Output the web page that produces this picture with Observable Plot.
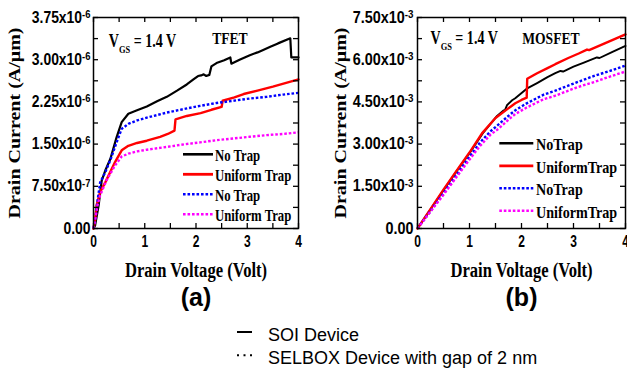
<!DOCTYPE html>
<html><head><meta charset="utf-8">
<script src="https://cdn.jsdelivr.net/npm/d3@7"></script>
<script src="https://cdn.jsdelivr.net/npm/@observablehq/plot@0.6"></script>
<style>
body{margin:0;background:#fff;}
#root{position:relative;width:627px;height:368px;overflow:hidden;background:#fff;}
#pa{position:absolute;left:0;top:0;}
#pb{position:absolute;left:310px;top:0;}
#legend{position:absolute;left:0;top:318px;}
svg{overflow:visible;}
</style></head><body>
<div id="root"><div id="pa"></div><div id="pb"></div><div id="legend"></div></div>
<script>
// ---------- data ----------
const xTicks = [0, 1, 2, 3, 4];
const xMinorTicks = [0.5, 1.5, 2.5, 3.5];

// TFET panel, current in units of 1e-6 A/um
const tfetYTicks = [0, 0.75, 1.5, 2.25, 3.0, 3.75];
const tfetYTickLabels = ["0.00", "7.50x10^-7", "1.50x10^-6", "2.25x10^-6", "3.00x10^-6", "3.75x10^-6"];
const tfetYMinor = [0.375, 1.125, 1.875, 2.625, 3.375];

// MOSFET panel, current in units of 1e-3 A/um
const mosYTicks = [0, 1.5, 3, 4.5, 6, 7.5];
const mosYTickLabels = ["0.00", "1.50x10^-3", "3.00x10^-3", "4.50x10^-3", "6.00x10^-3", "7.50x10^-3"];
const mosYMinor = [0.75, 2.25, 3.75, 5.25, 6.75];

const tfetSoiNoTrap = [[0,0],[0.03,0.05],[0.1,0.41],[0.16,0.85],[0.23,1.03],[0.33,1.24],[0.45,1.62],[0.55,1.89],[0.68,2.04],[0.85,2.1],[1.04,2.17],[1.24,2.26],[1.43,2.34],[1.63,2.45],[1.82,2.56],[1.95,2.65],[2.04,2.71],[2.1,2.72],[2.15,2.74],[2.2,2.71],[2.26,2.73],[2.3,2.88],[2.4,2.94],[2.55,2.99],[2.67,3.04],[2.69,2.93],[2.85,3.0],[3.05,3.08],[3.2,3.13],[3.3,3.17],[3.45,3.23],[3.6,3.29],[3.84,3.38],[3.86,3.04],[4,3.04]];
const tfetSoiUniform = [[0,0],[0.03,0.15],[0.06,0.41],[0.13,0.65],[0.23,0.82],[0.42,1.18],[0.55,1.39],[0.68,1.47],[0.85,1.52],[1.04,1.56],[1.3,1.63],[1.45,1.68],[1.58,1.74],[1.6,1.94],[1.82,2.0],[2.09,2.05],[2.3,2.11],[2.5,2.16],[2.52,2.27],[2.75,2.33],[2.93,2.39],[3.2,2.45],[3.5,2.52],[4,2.65]];
const tfetSelboxNoTrap = [[0,0],[0.04,0.2],[0.08,0.5],[0.13,0.82],[0.23,1.0],[0.33,1.22],[0.45,1.53],[0.55,1.77],[0.68,1.86],[0.85,1.92],[1.04,1.97],[1.43,2.06],[1.8,2.13],[2.08,2.18],[2.4,2.23],[2.73,2.27],[3.05,2.31],[3.38,2.34],[3.7,2.38],[4,2.41]];
const tfetSelboxUniform = [[0,0],[0.04,0.2],[0.08,0.42],[0.13,0.59],[0.25,0.85],[0.42,1.12],[0.55,1.28],[0.68,1.33],[0.85,1.37],[1.04,1.4],[1.43,1.45],[1.8,1.5],[2.08,1.53],[2.4,1.57],[2.73,1.6],[3.05,1.63],[3.38,1.66],[3.7,1.68],[4,1.71]];

const mosSoiNoTrap = [[0,0],[0.25,0.68],[0.5,1.36],[0.75,2.03],[1.0,2.68],[1.27,3.42],[1.53,4.0],[1.66,4.2],[1.68,4.2],[1.72,4.38],[1.82,4.56],[1.88,4.63],[2.1,4.97],[2.3,5.17],[2.5,5.38],[2.65,5.52],[2.75,5.6],[2.8,5.58],[3.0,5.75],[3.2,5.9],[3.45,6.08],[3.5,6.06],[3.75,6.28],[4,6.49]];
const mosSoiUniform = [[0,0],[0.25,0.69],[0.5,1.38],[0.75,2.05],[1.0,2.7],[1.24,3.38],[1.5,3.93],[1.79,4.33],[1.88,4.45],[2.0,4.57],[2.1,4.65],[2.11,5.32],[2.3,5.52],[2.5,5.7],[2.65,5.84],[2.9,6.06],[3.1,6.22],[3.26,6.36],[3.3,6.34],[3.6,6.58],[3.8,6.74],[4,6.9]];
const mosSelboxNoTrap = [[0,0],[0.25,0.62],[0.5,1.25],[0.75,1.9],[1.0,2.55],[1.2,3.05],[1.4,3.45],[1.56,3.7],[1.79,4.07],[1.88,4.2],[2.1,4.45],[2.43,4.76],[2.65,4.9],[3.07,5.2],[3.42,5.44],[3.7,5.6],[4,5.79]];
const mosSelboxUniform = [[0,0],[0.25,0.6],[0.5,1.2],[0.75,1.83],[1.0,2.45],[1.2,2.93],[1.4,3.33],[1.56,3.55],[1.79,3.93],[1.88,4.07],[2.1,4.3],[2.43,4.6],[2.65,4.72],[3.07,5.02],[3.42,5.22],[3.7,5.4],[4,5.58]];

const tfetLegendLabels = ["No Trap", "Uniform Trap", "No Trap", "Uniform Trap"];
const mosLegendLabels = ["NoTrap", "UniformTrap", "NoTrap", "UniformTrap"];
const figureLegendLabels = ["SOI Device", "SELBOX Device with gap of 2 nm"];

// ---------- helpers ----------
const SERIF = "'Liberation Serif','Times New Roman',serif";
const SANS = "'Liberation Sans',Arial,sans-serif";
const VGS = "V_GS = 1.4 V", YLAB = "Drain Current (A/μm)", XLAB = "Drain Voltage (Volt)";

function squeeze(nodes, sx, sy = 1) {
  nodes.each(function () {
    const t = this.getAttribute("transform") || "";
    this.setAttribute("transform", t + ` scale(${sx},${sy})`);
  });
}
function supify(nodes) {
  nodes.each(function () {
    const m = this.textContent.match(/^(.*)\^(.*)$/);
    if (!m) return;
    this.textContent = "";
    const s = d3.select(this);
    s.append("tspan").text(m[1]);
    s.append("tspan").attr("dy", "-0.45em").attr("font-size", "0.68em").text(m[2]);
  });
}
function subify(nodes) {
  nodes.each(function () {
    const m = this.textContent.match(/^(.*?)_(\S+)(.*)$/);
    if (!m) return;
    this.textContent = "";
    const s = d3.select(this);
    s.append("tspan").text(m[1]);
    s.append("tspan").attr("dy", 6).attr("font-size", "0.6em").text(m[2]);
    s.append("tspan").attr("dy", -6).text(m[3]);
  });
}
function byText(s, str) {
  return s.selectAll("text").filter(function () { return this.textContent === str; });
}

function panel(cfg) {
  const H = 312, mT = 17, mB = 84;
  const fw = cfg.width - cfg.marginLeft - cfg.marginRight;
  const fh = H - mT - mB;
  const xAll = xTicks.concat(xMinorTicks);
  const yAll = cfg.yTicks.concat(cfg.yMinor);
  const svg = Plot.plot({
    width: cfg.width, height: H,
    marginLeft: cfg.marginLeft, marginRight: cfg.marginRight, marginTop: mT, marginBottom: mB,
    x: {domain: [0, 4]},
    y: {domain: [0, cfg.yTicks[cfg.yTicks.length - 1]]},
    style: {background: "white", color: "black"},
    marks: [
      ...cfg.series.map(s => Plot.line(s.data, {x: d => d[0], y: d => d[1], stroke: s.color, strokeWidth: s.w, strokeDasharray: s.dash, strokeLinejoin: "round", strokeLinecap: s.dash ? "butt" : "round"})),
      Plot.frame({stroke: "black", strokeWidth: 1.5}),
      Plot.tickX(xAll, {x: d => d, insetTop: fh - 5, strokeWidth: 1.3}),
      Plot.tickX(xAll, {x: d => d, insetBottom: fh - 5, strokeWidth: 1.3}),
      Plot.tickY(yAll, {y: d => d, insetRight: fw - 5, strokeWidth: 1.3}),
      Plot.tickY(yAll, {y: d => d, insetLeft: fw - 5, strokeWidth: 1.3}),
      Plot.axisX(xTicks, {tickSize: 0, tickPadding: 7, label: null, fontSize: 16, fontWeight: "bold", fontFamily: SANS, tickFormat: d => String(d)}),
      Plot.axisY(cfg.yTicks, {tickSize: 0, tickPadding: cfg.yPad, label: null, fontSize: 16, fontWeight: "bold", fontFamily: SANS, tickFormat: d => cfg.yLabels[cfg.yTicks.indexOf(d)]}),
      Plot.text([VGS], {frameAnchor: "top-left", dx: cfg.vgs[0], dy: cfg.vgs[1], textAnchor: "start", lineAnchor: "bottom", fontSize: 18, fontWeight: "bold", fontFamily: SERIF}),
      Plot.text([cfg.title], {frameAnchor: "top-left", dx: cfg.titlePos[0], dy: cfg.titlePos[1], textAnchor: "start", lineAnchor: "bottom", fontSize: 17, fontWeight: "bold", fontFamily: SERIF}),
      Plot.text([YLAB], {frameAnchor: "left", dx: cfg.ylabDx, rotate: -90, textAnchor: "middle", lineAnchor: "middle", fontSize: 20, fontWeight: "bold", fontFamily: SERIF}),
      Plot.text([XLAB], {frameAnchor: "bottom", dy: 48, textAnchor: "middle", lineAnchor: "bottom", fontSize: 20, fontWeight: "bold", fontFamily: SERIF}),
      Plot.text([cfg.tag], {frameAnchor: "bottom", dy: 77, textAnchor: "middle", lineAnchor: "bottom", fontSize: 25, fontWeight: "bold", fontFamily: SANS})
    ]
  });
  const s = d3.select(svg);
  const ytl = s.selectAll('g[aria-label="y-axis tick label"] text');
  supify(ytl); squeeze(ytl, cfg.yScale);
  squeeze(s.selectAll('g[aria-label="x-axis tick label"] text'), 0.75);
  const vg = byText(s, VGS); subify(vg); squeeze(vg, 0.78);
  squeeze(byText(s, cfg.title), 0.8);
  squeeze(byText(s, XLAB), 0.83);
  squeeze(byText(s, YLAB), 1, 0.8);

  // in-frame legend
  const lg = s.append("g").attr("aria-label", "legend");
  cfg.series.forEach((ser, i) => {
    const y = cfg.leg.y0 + i * cfg.leg.dy;
    lg.append("line").attr("x1", cfg.leg.x1).attr("x2", cfg.leg.x2).attr("y1", y).attr("y2", y)
      .attr("stroke", ser.color).attr("stroke-width", ser.lw).attr("stroke-dasharray", ser.dash || null);
    lg.append("text").attr("transform", `translate(${cfg.leg.tx},${y + 6.8}) scale(${cfg.leg.sx},1)`)
      .attr("text-anchor", "start")
      .attr("font-family", SERIF).attr("font-weight", "bold").attr("font-size", 17).attr("fill", "black")
      .text(cfg.legendLabels[i]);
  });
  return svg;
}

const dot = "2.6,1.9";
document.getElementById("pa").append(panel({
  width: 310, marginLeft: 93, marginRight: 12,
  yTicks: tfetYTicks, yMinor: tfetYMinor, yLabels: tfetYTickLabels, yPad: 3, yScale: 0.87,
  series: [
    {data: tfetSoiNoTrap, color: "black", w: 2.2, lw: 2.6},
    {data: tfetSoiUniform, color: "#ff0000", w: 2.4, lw: 2.8},
    {data: tfetSelboxNoTrap, color: "#0000ff", w: 2.4, lw: 2.4, dash: dot},
    {data: tfetSelboxUniform, color: "#ff00ff", w: 2.4, lw: 2.4, dash: dot}
  ],
  legendLabels: tfetLegendLabels,
  leg: {x1: 183, x2: 213, tx: 215, y0: 154.3, dy: 20, sx: 0.75},
  title: "TFET", titlePos: [118.7, 26.3], vgs: [15.3, 29.7], ylabDx: -79, tag: "(a)"
}));
document.getElementById("pb").append(panel({
  width: 317, marginLeft: 107, marginRight: 2,
  yTicks: mosYTicks, yMinor: mosYMinor, yLabels: mosYTickLabels, yPad: 4, yScale: 0.9,
  series: [
    {data: mosSoiNoTrap, color: "black", w: 1.9, lw: 2.4},
    {data: mosSoiUniform, color: "#ff0000", w: 2.4, lw: 2.8},
    {data: mosSelboxNoTrap, color: "#0000ff", w: 2.4, lw: 2.4, dash: dot},
    {data: mosSelboxUniform, color: "#ff00ff", w: 2.4, lw: 2.4, dash: dot}
  ],
  legendLabels: mosLegendLabels,
  leg: {x1: 189.3, x2: 223.3, tx: 226, y0: 143.3, dy: 22.5, sx: 0.83},
  title: "MOSFET", titlePos: [104.7, 26.3], vgs: [13, 26.3], ylabDx: -77, tag: "(b)"
}));

// figure legend below the panels
const fl = d3.select("#legend").append("svg").attr("width", 627).attr("height", 50);
[{y: 14, dash: null}, {y: 37.3, dash: "2,4.5"}].forEach((r, i) => {
  fl.append("line").attr("x1", 237).attr("x2", 252).attr("y1", r.y).attr("y2", r.y)
    .attr("stroke", "black").attr("stroke-width", 2).attr("stroke-dasharray", r.dash);
  fl.append("text").attr("x", 268).attr("y", r.y + 8.7).attr("font-family", SANS).attr("font-size", 18)
    .attr("fill", "black").text(figureLegendLabels[i]);
});
</script>
</body></html>
